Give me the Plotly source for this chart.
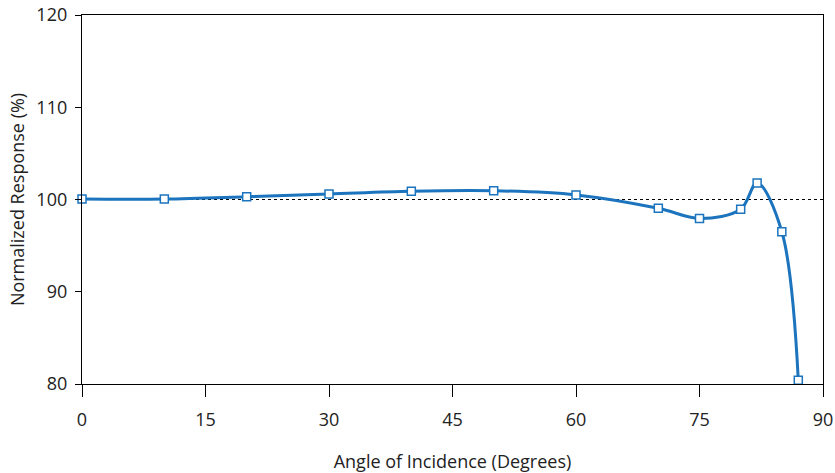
import plotly.graph_objects as go

# Data
angles = [0, 10, 20, 30, 40, 50, 60, 70, 75, 80, 82, 85, 87]
response = [100.05, 100.05, 100.3, 100.6, 100.9, 100.95, 100.5, 99.05, 97.95, 98.95, 101.8, 96.5, 80.4]
reference_level = 100
x_range = [0, 90]
y_range = [80, 120]
x_ticks = [0, 15, 30, 45, 60, 75, 90]
y_ticks = [80, 90, 100, 110, 120]

blue = "#1b74bd"

fig = go.Figure()

fig.add_trace(go.Scatter(
    x=x_range, y=[reference_level, reference_level],
    mode="lines", line=dict(color="black", width=1.2, dash="dot"),
    hoverinfo="skip", showlegend=False, cliponaxis=False,
))

fig.add_trace(go.Scatter(
    x=angles, y=response,
    mode="lines+markers",
    line=dict(color=blue, width=3, shape="spline", smoothing=1.0),
    marker=dict(symbol="square", size=8, color="white",
                line=dict(color=blue, width=1.5)),
    showlegend=False, cliponaxis=False,
))

font = dict(family="Open Sans", size=18, color="#222222")

fig.update_layout(
    width=835, height=473,
    margin=dict(l=82, r=12, t=15, b=89),
    paper_bgcolor="white", plot_bgcolor="white",
    font=font,
    hovermode=False,
    xaxis=dict(
        range=x_range, tickvals=x_ticks, ticks="outside", ticklen=12,
        tickwidth=1.3, tickcolor="black", showline=True, linecolor="black",
        linewidth=1.3, mirror=True, showgrid=False, zeroline=False,
        ticklabelstandoff=7, automargin=False,
        title=dict(text="Angle of Incidence (Degrees)", font=font, standoff=36),
    ),
    yaxis=dict(
        range=y_range, tickvals=y_ticks, ticks="outside", ticklen=6,
        tickwidth=1.3, tickcolor="black", showline=True, linecolor="black",
        linewidth=1.3, mirror=True, showgrid=False, zeroline=False,
        ticklabelstandoff=4, automargin=False,
        title=dict(text="Normalized Response (%)", font=font, standoff=7),
    ),
)

fig.write_html("out.html", config={"displayModeBar": False},
               post_script="document.body.style.margin='0';")
